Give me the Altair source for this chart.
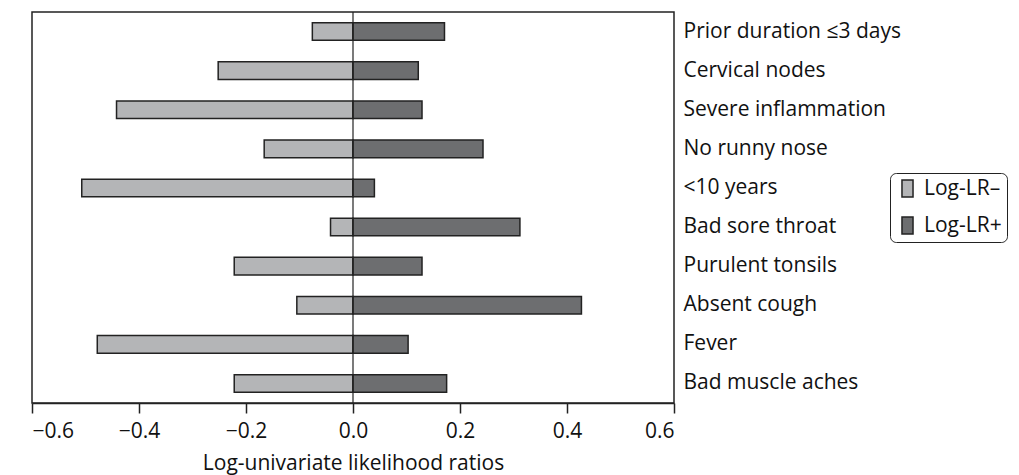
import altair as alt
import pandas as pd

categories = ["Prior duration ≤3 days", "Cervical nodes", "Severe inflammation",
              "No runny nose", "<10 years", "Bad sore throat", "Purulent tonsils",
              "Absent cough", "Fever", "Bad muscle aches"]
log_lr_neg = [-0.076, -0.252, -0.442, -0.166, -0.507, -0.042, -0.222, -0.105, -0.478, -0.222]
log_lr_pos = [0.171, 0.122, 0.129, 0.243, 0.040, 0.312, 0.129, 0.427, 0.103, 0.175]
series = ["Log-LR–", "Log-LR+"]
x_ticks = [-0.6, -0.4, -0.2, 0.0, 0.2, 0.4, 0.6]

rows = []
for c, n, p in zip(categories, log_lr_neg, log_lr_pos):
    rows.append({"feature": c, "series": series[0], "value": n})
    rows.append({"feature": c, "series": series[1], "value": p})
df = pd.DataFrame(rows)

FONT = "Open Sans"
FS = 21

bars = alt.Chart(df).mark_bar(stroke="#222222", strokeWidth=1.5).encode(
    x=alt.X("value:Q",
            scale=alt.Scale(domain=[-0.6, 0.6], nice=False, zero=False),
            axis=alt.Axis(values=x_ticks, format=".1f", title="Log-univariate likelihood ratios",
                          grid=False, tickSize=10, tickWidth=1.5, tickColor="#222222",
                          domainColor="#222222", domainWidth=1.5,
                          labelFontSize=FS, labelFont=FONT, labelColor="#111111",
                          labelPadding=7, titleFontSize=FS, titleFont=FONT,
                          titleFontWeight="normal", titleColor="#111111", titlePadding=11)),
    y=alt.Y("feature:N", sort=categories,
            scale=alt.Scale(paddingInner=0.55, paddingOuter=0.275),
            axis=alt.Axis(orient="right", title=None, ticks=False, domain=False,
                          labelFontSize=FS, labelFont=FONT, labelColor="#111111",
                          labelPadding=9, labelLimit=400)),
    color=alt.Color("series:N",
                    scale=alt.Scale(domain=series, range=["#b4b5b7", "#6d6e70"]),
                    legend=alt.Legend(title=None, orient="none", legendX=858, legendY=161,
                                      strokeColor="#222222", cornerRadius=6, padding=5,
                                      symbolType="M-0.65,-1H0.65V1H-0.65Z", symbolSize=289,
                                      symbolStrokeColor="#222222", symbolStrokeWidth=1.5,
                                      symbolOffset=2,
                                      labelFontSize=FS, labelFont=FONT, labelColor="#111111",
                                      labelOffset=6, rowPadding=14)),
    order=alt.Order("series:N"),
)

zero_line = alt.Chart(pd.DataFrame({"x": [0.0]})).mark_rule(color="#222222", strokeWidth=1.2).encode(
    x="x:Q"
)

chart = alt.layer(bars, zero_line).properties(
    width=642, height=391,
    autosize=alt.AutoSizeParams(type="none"),
    padding={"left": 24, "top": 4, "right": 337, "bottom": 72},
).configure_view(stroke="#222222", strokeWidth=1.5)

chart.save("out.html", embed_options={"renderer": "svg", "actions": False})
